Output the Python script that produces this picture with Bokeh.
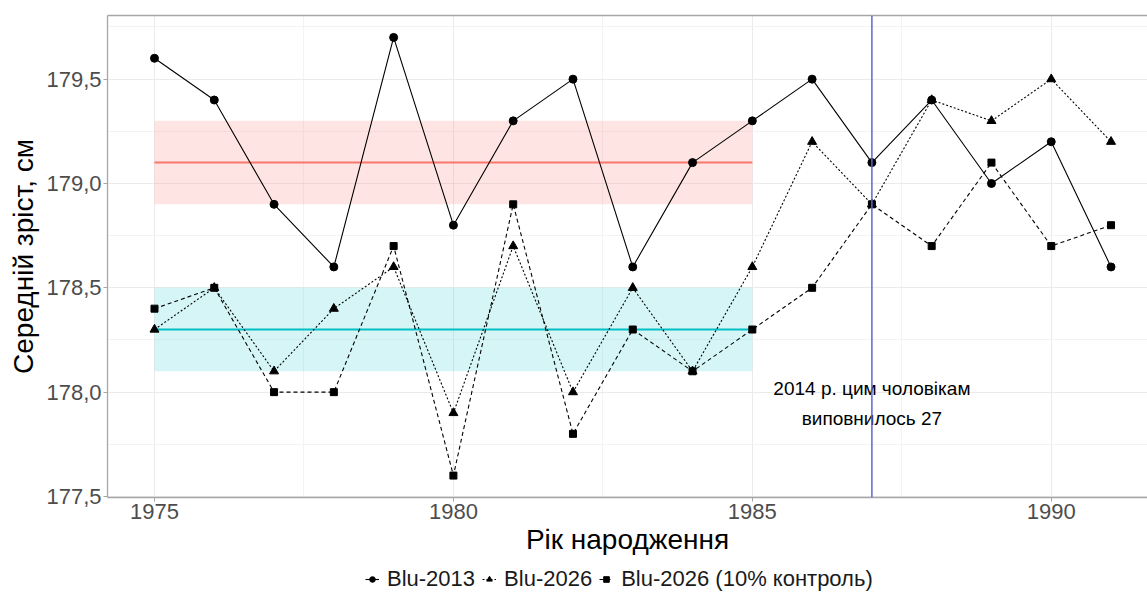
from bokeh.plotting import figure
from bokeh.layouts import column
from bokeh.models import (Range1d, FixedTicker, Legend, LegendItem, LinearAxis, Span)
from bokeh.core.properties import value
from bokeh.embed import file_html
from bokeh.resources import INLINE

# ---------------- data ----------------
years = list(range(1975, 1992))
blu2013 = [179.6, 179.4, 178.9, 178.6, 179.7, 178.8, 179.3, 179.5, 178.6,
           179.1, 179.3, 179.5, 179.1, 179.4, 179.0, 179.2, 178.6]
blu2026 = [178.3, 178.5, 178.1, 178.4, 178.6, 177.9, 178.7, 178.0, 178.5,
           178.1, 178.6, 179.2, 178.9, 179.4, 179.3, 179.5, 179.2]
blu2026_ctrl = [178.4, 178.5, 178.0, 178.0, 178.7, 177.6, 178.9, 177.8, 178.3,
                178.1, 178.3, 178.5, 178.9, 178.7, 179.1, 178.7, 178.8]
series_labels = ["Blu-2013", "Blu-2026", "Blu-2026 (10% контроль)"]

band_years = [1975, 1985]
band_red = {"mean": 179.1, "low": 178.9, "high": 179.3}
band_cyan = {"mean": 178.3, "low": 178.1, "high": 178.5}

marker_year = 1987
annotation_text = "2014 р. цим чоловікам\nвиповнилось 27"
annotation_y = 177.945

x_ticks = [1975, 1980, 1985, 1990]
x_minor_ticks = [1977.5, 1982.5, 1987.5]
y_ticks = [177.5, 178.0, 178.5, 179.0, 179.5]
y_tick_labels = ["177,5", "178,0", "178,5", "179,0", "179,5"]
y_minor_ticks = [177.75, 178.25, 178.75, 179.25, 179.75]

x_label = "Рік народження"
y_label = "Середній зріст, см"

# ---------------- main figure ----------------
FONT = "Liberation Sans"
GRID = "#EBEBEB"
AXIS = "#A6A6A6"

p = figure(frame_width=1040, frame_height=482, output_backend="svg", toolbar_location=None,
           x_range=Range1d(1974.214, 1991.61), y_range=Range1d(177.495, 179.805),
           min_border_left=107, min_border_top=15, min_border_right=0, min_border_bottom=64)
p.outline_line_color = None
p.background_fill_color = "white"

p.xgrid.grid_line_color = GRID
p.ygrid.grid_line_color = GRID
p.xgrid.minor_grid_line_color = "#F3F3F3"
p.ygrid.minor_grid_line_color = "#F3F3F3"

p.xaxis.ticker = FixedTicker(ticks=x_ticks, minor_ticks=x_minor_ticks)
p.yaxis.ticker = FixedTicker(ticks=y_ticks, minor_ticks=y_minor_ticks)
p.yaxis.major_label_overrides = dict(zip(y_ticks, y_tick_labels))
for ax in (p.xaxis[0], p.yaxis[0]):
    ax.axis_line_color = AXIS
    ax.axis_line_width = 1.3
    ax.major_tick_line_color = AXIS
    ax.major_tick_out = 4
    ax.major_tick_in = 0
    ax.minor_tick_line_color = None
    ax.major_label_text_font = FONT
    ax.major_label_text_font_size = "22px"
    ax.major_label_text_color = "#4D4D4D"
    ax.major_label_standoff = 2
    ax.axis_label_text_font = FONT
    ax.axis_label_text_font_size = "28px"
    ax.axis_label_text_font_style = "normal"
    ax.axis_label_text_color = "black"
p.xaxis.axis_label = x_label
p.yaxis.axis_label = y_label
p.xaxis.axis_label_standoff = 2
p.yaxis.axis_label_standoff = 4

top_axis = LinearAxis(ticker=FixedTicker(ticks=[]), axis_line_color=AXIS, axis_line_width=1.3,
                      major_tick_line_color=None, minor_tick_line_color=None,
                      major_label_text_font_size="0px", major_label_standoff=0)
p.add_layout(top_axis, "above")

RED = "#F8766D"
CYAN = "#00BFC4"
p.varea(x=band_years, y1=[band_red["low"]] * 2, y2=[band_red["high"]] * 2,
        fill_color=RED, fill_alpha=0.2)
p.varea(x=band_years, y1=[band_cyan["low"]] * 2, y2=[band_cyan["high"]] * 2,
        fill_color=CYAN, fill_alpha=0.16)
p.line(x=band_years, y=[band_red["mean"]] * 2, line_color=RED, line_width=2)
p.line(x=band_years, y=[band_cyan["mean"]] * 2, line_color=CYAN, line_width=2)

series = [blu2013, blu2026, blu2026_ctrl]
DASHES = [None, "2 2", "4 3"]
MARKERS = ["circle", "triangle", "square"]
SIZES = [8, 9, 7]


def add_line(fig, vals, dash):
    if dash:
        return fig.line(years, vals, line_color="black", line_width=1.1, line_dash=dash)
    return fig.line(years, vals, line_color="black", line_width=1.1)


for vals, dash in zip(series, DASHES):
    add_line(p, vals, dash)
for vals, mk, sz in zip(series, MARKERS, SIZES):
    p.scatter(years, vals, marker=mk, size=sz, color="black")

p.add_layout(Span(location=marker_year, dimension="height", line_color="#5B66D6", line_width=1.5))
p.text(x=[marker_year], y=[annotation_y], text=[annotation_text], text_align="center",
       text_baseline="middle", text_font=value(FONT), text_font_size="19px",
       text_line_height=1.45, text_color="black")

# ---------------- legend strip (same series, ranges keep marks out of view) ----------------
lg = figure(width=1147, height=31, output_backend="svg", toolbar_location=None,
            x_range=Range1d(0, 1), y_range=Range1d(0, 1), x_axis_type=None, y_axis_type=None,
            min_border=0)
lg.outline_line_color = None
lg.xgrid.visible = False
lg.ygrid.visible = False
items = []
for lab, vals, dash, mk in zip(series_labels, series, DASHES, MARKERS):
    r1 = add_line(lg, vals, dash)
    r2 = lg.scatter(years, vals, marker=mk, size=6, color="black")
    items.append(LegendItem(label=lab, renderers=[r1, r2]))
legend = Legend(items=items, orientation="horizontal", location=(258, 0),
                label_text_font=FONT, label_text_font_size="22px", label_text_color="#1A1A1A",
                glyph_width=14, glyph_height=16, label_standoff=8, spacing=7,
                padding=0, margin=0, border_line_color=None, background_fill_alpha=0)
lg.add_layout(legend, "center")

layout = column(p, lg, spacing=0)
open("out.html", "w").write(file_html(layout, INLINE))
